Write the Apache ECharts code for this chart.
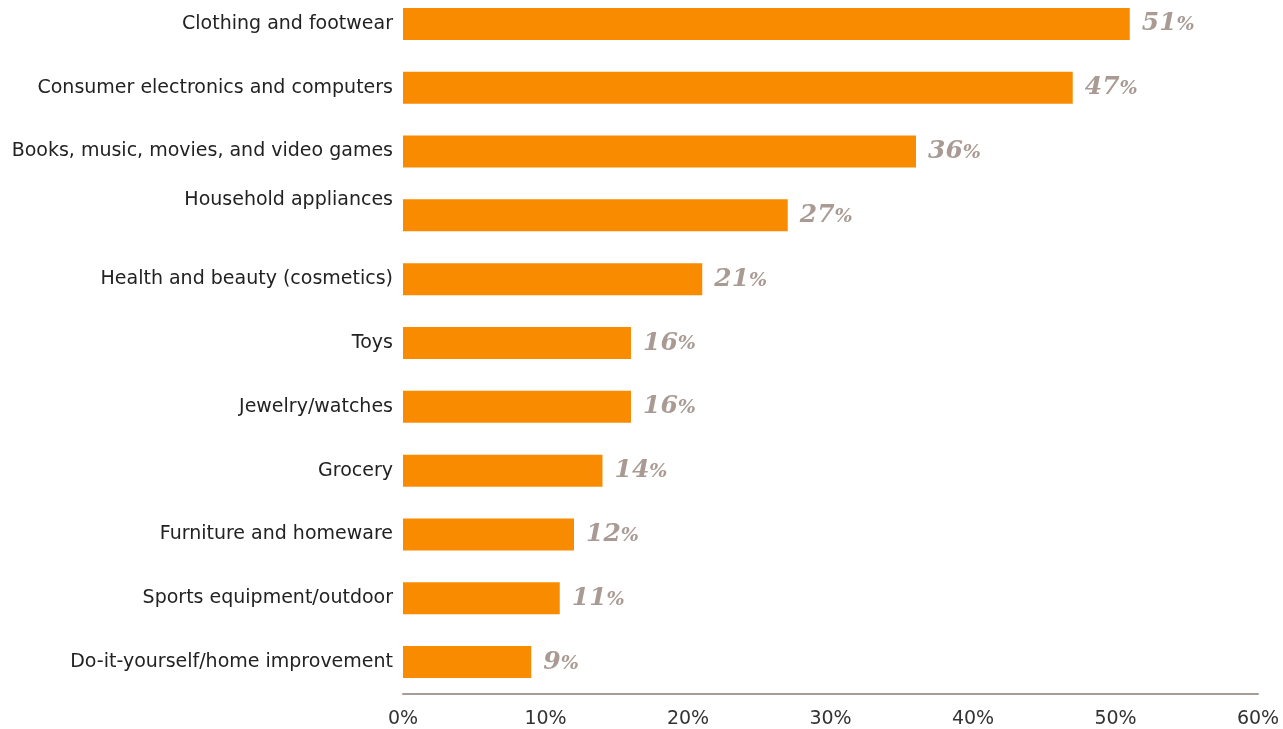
<!DOCTYPE html>
<html><head><meta charset="utf-8">
<style>html,body{margin:0;padding:0;background:#fff;overflow:hidden}#c{position:absolute;left:0;top:-8px;width:1283px;height:737px}</style>
<script src="https://cdn.jsdelivr.net/npm/echarts@6/dist/echarts.min.js"></script>
</head><body><div id="c"></div>
<script>
var categories = ["Clothing and footwear","Consumer electronics and computers","Books, music, movies, and video games","Household appliances","Health and beauty (cosmetics)","Toys","Jewelry/watches","Grocery","Furniture and homeware","Sports equipment/outdoor","Do-it-yourself/home improvement"];
var values = [51,47,36,27,21,16,16,14,12,11,9];
var xTicks = [0,10,20,30,40,50,60];

var chart = echarts.init(document.getElementById('c'));
chart.setOption({
  animation:false,
  grid:{left:403,right:25,top:0,bottom:34,containLabel:false},
  xAxis:{type:'value',min:xTicks[0],max:xTicks[xTicks.length-1],interval:10,
    axisLine:{show:true,lineStyle:{color:'#a89d96',width:2}},
    axisTick:{show:false},splitLine:{show:false},
    axisLabel:{formatter:function(v){return v+'%';},color:'#333',fontSize:19,fontFamily:'DejaVu Sans, sans-serif',margin:16}
  },
  yAxis:{type:'category',data:categories,inverse:true,
    axisLine:{show:false},axisTick:{show:false},
    axisLabel:{color:'#222',fontSize:19,fontFamily:'DejaVu Sans, sans-serif',margin:10,
      formatter:function(v,i){return i===3?'{up|'+v+'}':v;},
      rich:{up:{color:'#222',fontSize:19,fontFamily:'DejaVu Sans, sans-serif',padding:[0,0,30,0]}}
    }
  },
  series:[{type:'bar',data:values,barWidth:32,itemStyle:{color:'#f98b00'},
    label:{show:true,position:'right',distance:12,
      formatter:function(p){return '{n|'+p.value+'}{p|%}';},
      rich:{
        n:{fontFamily:'DejaVu Serif, serif',fontWeight:'bold',fontStyle:'italic',fontSize:25,color:'#a99b94'},
        p:{fontFamily:'DejaVu Serif, serif',fontWeight:'bold',fontStyle:'italic',fontSize:19,color:'#a99b94',padding:[3,0,0,0]}
      }
    }
  }]
});
</script></body></html>
